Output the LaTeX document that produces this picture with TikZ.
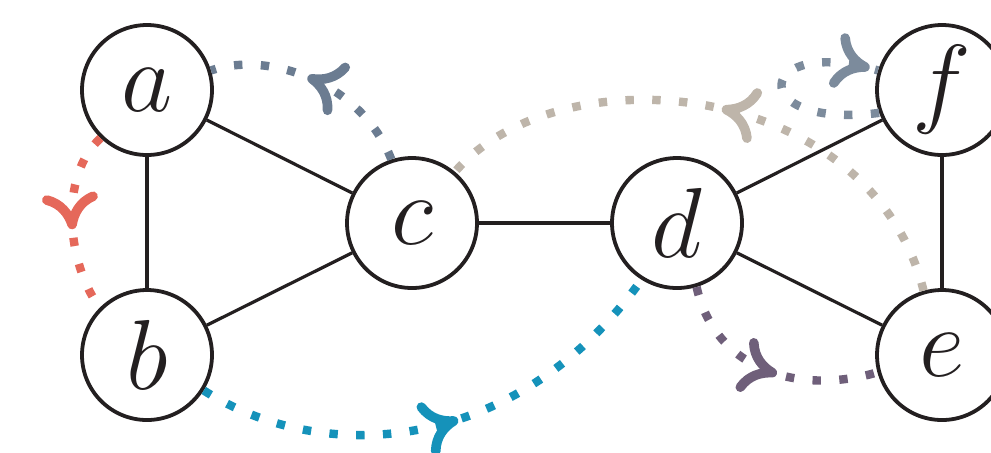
\documentclass[tikz,border=0pt]{standalone}
\usetikzlibrary{arrows.meta,decorations.markings}
\definecolor{cred}{RGB}{229,104,90}
\definecolor{cslate}{RGB}{107,124,145}
\definecolor{cteal}{RGB}{21,146,186}
\definecolor{cbeige}{RGB}{190,181,170}
\definecolor{cgray}{RGB}{124,139,156}
\definecolor{cpurple}{RGB}{111,95,122}
\definecolor{ink}{RGB}{35,31,32}
\begin{document}
\begin{tikzpicture}[x=0.25pt,y=-0.25pt,
  vert/.style={circle,draw=ink,fill=white,line width=0.95pt,minimum size=32.5pt,inner sep=0pt,
    font=\fontsize{24.88}{25}\selectfont,text=ink},
  link/.style={draw=ink,line width=0.8pt},
  flow/.style={line width=2.1pt,dash pattern=on 2.1pt off 4.6pt},
  midtip/.style 2 args={postaction={decorate,decoration={markings,
    mark=at position #1 with {\arrow[#2]{Computer Modern Rightarrow[length=9pt,width=14pt,line width=2.4pt]}}}}}
]
\useasboundingbox (0,0) rectangle (991,452);
\node[vert] (a) at (147,90) {$a$};
\node[vert] (b) at (147,355) {$b$};
\node[vert] (c) at (412,223) {$c$};
\node[vert] (d) at (677,223) {$d$};
\node[vert] (e) at (942,355) {$e$};
\node[vert] (f) at (942,90) {$f$};
\draw[link] (a) -- (b);
\draw[link] (a) -- (c);
\draw[link] (b) -- (c);
\draw[link] (c) -- (d);
\draw[link] (d) -- (f);
\draw[link] (d) -- (e);
\draw[link] (f) -- (e);
% dotted flows
\draw[flow,cred,midtip={0.54}{cred}] (a.226) .. controls +(-42,38) and +(-33,-45) .. (b.135);
\draw[flow,cslate,midtip={0.55}{cslate}] (c.108) .. controls +(-30,-77) and +(57,-20) .. (a.17);
\draw[flow,cteal,midtip={0.53}{cteal}] (b.-32) .. controls +(123,78) and +(-123,172) .. (d.238);
\draw[flow,cbeige,midtip={0.5}{cbeige}] (e.106) .. controls +(-53,-212) and +(106,-122) .. (c.50);
\draw[flow,cpurple,midtip={0.55}{cpurple}] (d.287) .. controls +(19,84) and +(-78,23) .. (e.195);
\draw[flow,cgray,midtip={0.96}{cgray}] (f.200) .. controls +(-135,17) and +(-124,-36) .. (f.163);
\end{tikzpicture}
\end{document}
